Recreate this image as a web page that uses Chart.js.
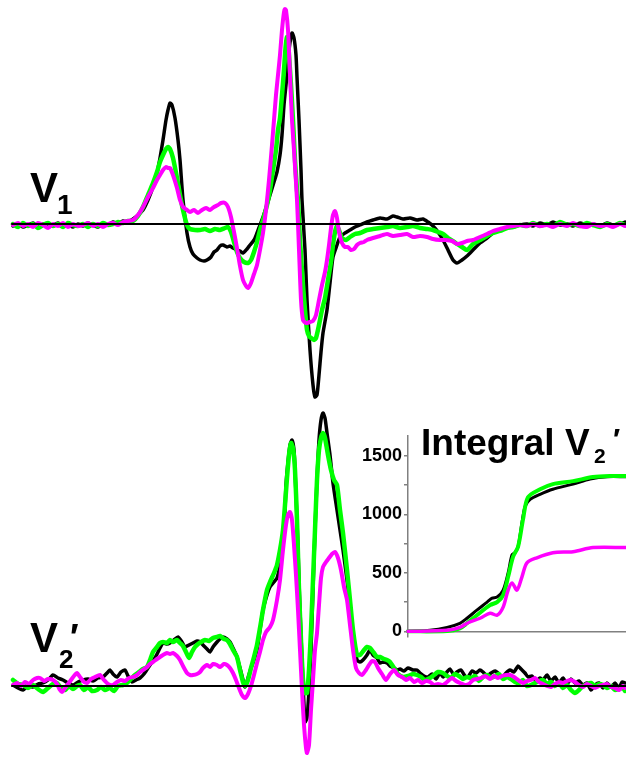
<!DOCTYPE html>
<html>
<head>
<meta charset="utf-8">
<script src="https://cdn.jsdelivr.net/npm/chart.js@4"></script>
<style>
  html, body { margin: 0; padding: 0; background: #fff; overflow: hidden; }
  body { width: 626px; height: 757px; position: relative; }
  canvas { position: absolute; }
  .lbl { position: absolute; font-family: "Liberation Sans", Arial, sans-serif; font-weight: bold; color: #000; white-space: nowrap; }
</style>
</head>
<body>
<canvas id="c1" width="626" height="420" style="left:0;top:0;"></canvas>
<canvas id="c2" width="626" height="362" style="left:0;top:395px;"></canvas>
<canvas id="c3" width="286" height="230" style="left:340px;top:420px;"></canvas>

<div class="lbl" style="left:30px;top:167px;font-size:42px;line-height:42px;">V</div>
<div class="lbl" style="left:57px;top:191px;font-size:28px;line-height:28px;">1</div>

<div class="lbl" style="left:30px;top:617px;font-size:42px;line-height:42px;">V</div>
<div class="lbl" style="left:59px;top:646px;font-size:26px;line-height:26px;">2</div>
<div class="lbl" style="left:70px;top:620px;font-size:36px;line-height:36px;">′</div>

<div class="lbl" style="left:421px;top:424px;font-size:37px;line-height:37px;">Integral V</div>
<div class="lbl" style="left:594px;top:445px;font-size:21px;line-height:21px;">2</div>
<div class="lbl" style="left:613px;top:424px;font-size:30px;line-height:30px;">′</div>

<script>
// ---- Time axis (arbitrary units) ----
const baseT = [12, 626];
const baseV = [0, 0];

// ---- V1 traces ----
const v1BlackT = [13,18,23,28,33,38,43,48,53,58,63,68,73,78,83,88,93,98,103,108,113,118,123,128,133,138,143,148,153,157,160,163,166,168,170,172,175,178,180,183,187,190,193,197,200,204,207,211,214,217,220,223,227,230,233,237,240,243,247,250,254,257,260,263,267,270,274,277,280,282,284,287,289,292,294,296,297,299,301,302,305,307,310,313,315,317,319,321,323,327,330,333,337,340,345,350,355,360,367,373,380,387,393,397,403,410,417,423,428,433,438,443,448,453,457,462,467,473,480,487,493,500,507,513,520,527,533,540,547,553,560,567,573,580,587,593,600,607,613,620,625];
const v1BlackV = [-2,0,-3,-1,1,-2,0,-3,-1,1,-2,-1,-3,0,-2,1,-1,-3,0,-1,2,0,3,2,5,9,14,24,37,51,66,84,104,114,121,119,106,84,64,24,-9,-23,-30,-34,-36,-37,-36,-33,-28,-26,-22,-21,-23,-22,-24,-26,-27,-29,-25,-21,-16,-9,-1,7,19,29,42,52,69,89,119,149,174,191,186,169,147,104,54,24,-26,-76,-126,-161,-173,-171,-151,-128,-109,-86,-59,-33,-21,-13,-9,-6,-3,-1,2,4,6,5,8,7,5,6,4,5,2,-2,-8,-16,-26,-36,-39,-36,-32,-26,-19,-14,-9,-6,-4,-3,-1,0,-2,1,-1,2,-1,0,-2,1,-1,0,-2,1,-1,0,2];

const v1GreenT = [13,18,23,28,33,38,43,48,53,58,63,68,73,78,83,88,93,98,103,108,113,118,123,128,133,138,143,148,153,157,160,163,166,168,170,173,177,180,183,187,190,195,200,205,210,215,220,225,228,231,234,237,240,244,248,251,254,257,260,263,267,270,273,276,278,280,282,284,285,286,287,288,289,291,293,295,297,298,300,303,305,307,309,311,314,316,319,322,325,328,331,333,335,337,339,342,346,350,355,360,367,373,380,387,393,400,407,413,420,427,433,438,443,448,453,457,462,467,473,480,487,493,500,507,513,520,527,533,540,547,553,560,567,573,580,587,593,600,607,613,620,625];
const v1GreenV = [0,-3,1,-2,0,-4,-1,1,-2,0,-3,1,-1,-2,0,-3,0,-2,1,-1,0,2,1,3,3,8,17,29,41,52,62,69,75,77,75,66,46,29,14,-1,-5,-6,-6,-5,-7,-5,-6,-4,-3,-8,-18,-28,-34,-38,-39,-36,-28,-18,-6,4,19,34,54,74,94,106,129,154,169,181,187,184,169,139,104,64,34,24,-16,-61,-86,-106,-112,-114,-116,-114,-101,-86,-74,-56,-38,-21,-8,-2,-6,-14,-16,-13,-10,-9,-6,-5,-4,-3,-2,-4,-3,-2,-4,-5,-6,-8,-10,-14,-17,-20,-23,-26,-20,-16,-12,-9,-7,-4,-3,-1,-2,1,-2,0,-2,2,-1,0,-2,1,-1,-3,0,-2,1,-1];

const v1MagT = [13,18,23,28,33,38,43,48,53,58,63,68,73,78,83,88,93,98,103,108,113,118,123,128,133,138,143,148,153,157,160,163,166,168,170,173,177,180,183,187,190,194,198,202,206,210,214,218,221,225,228,231,234,237,240,243,246,248,251,254,257,260,263,266,269,272,274,276,278,280,282,284,285,286,288,290,292,294,297,299,301,303,306,310,313,316,319,322,325,327,329,331,333,335,337,339,342,345,348,351,354,357,360,364,367,373,380,387,393,400,407,413,420,427,433,440,446,452,457,462,467,473,480,487,493,500,507,513,520,527,533,540,547,553,560,567,573,580,587,593,600,607,613,620,625];
const v1MagV = [-1,1,-2,0,-3,1,-1,-4,0,-2,1,-3,0,-2,-1,1,-2,0,-3,0,1,-1,2,3,4,9,17,27,36,44,49,54,57,56,56,49,36,24,17,14,12,14,11,14,16,14,17,19,21,21,17,7,-8,-24,-42,-56,-62,-64,-59,-50,-41,-26,-9,14,44,79,104,129,149,169,194,212,215,214,194,149,104,74,24,-26,-76,-96,-99,-98,-97,-91,-76,-61,-48,-36,-21,-4,9,13,6,-8,-19,-23,-23,-26,-25,-21,-19,-18,-16,-14,-12,-10,-12,-11,-10,-13,-12,-13,-15,-16,-16,-17,-20,-19,-17,-16,-13,-10,-7,-5,-3,-2,-1,-2,0,-2,-1,-3,0,-2,1,-2,-3,0,-2,-1,-3,0,-2];

// ---- V2' traces ----
const v2BlackT = [13,18,23,28,33,38,43,48,53,58,63,68,73,78,83,88,93,98,103,108,110,113,117,121,125,128,132,136,140,144,148,152,156,160,163,167,170,174,178,182,185,189,193,197,200,204,207,210,213,217,220,223,227,230,233,237,240,243,245,248,251,254,257,260,263,267,270,274,277,280,283,285,286,288,290,292,294,295,297,299,300,302,304,305,307,309,311,313,315,317,319,321,323,325,327,330,333,337,340,343,347,350,353,357,360,363,367,370,373,377,380,383,387,390,394,397,400,404,408,413,417,420,424,428,432,436,440,443,447,450,454,457,461,465,468,472,476,480,483,487,491,495,499,502,506,510,514,518,521,525,528,532,536,540,543,547,551,555,559,563,567,571,575,579,583,587,591,595,599,603,607,611,615,619,622,625];
const v2BlackV = [1,-2,-4,0,-1,2,3,6,11,8,6,3,1,4,6,7,5,8,9,14,16,12,9,14,16,10,4,6,8,12,18,24,30,38,43,42,43,46,49,44,39,41,43,45,44,40,37,34,39,44,47,49,47,44,38,29,18,6,-1,8,18,26,36,56,76,91,99,104,108,121,143,176,201,224,241,246,236,216,166,106,76,26,-19,-36,-32,-4,36,96,156,206,246,266,273,268,253,231,203,176,156,136,106,79,51,26,24,26,31,36,31,28,23,24,23,20,18,16,17,15,18,16,16,13,10,9,12,7,13,9,14,17,11,14,16,10,9,15,13,16,14,10,13,15,12,8,13,16,14,20,17,13,9,10,5,8,6,11,5,9,3,8,2,7,3,5,1,3,-4,1,3,-2,3,-1,3,-2,4,3];

const v2GreenT = [13,18,23,28,33,38,43,48,53,57,61,65,69,73,77,80,84,88,92,97,101,105,110,114,118,123,127,131,135,139,143,147,150,153,157,160,163,167,170,173,177,180,183,186,189,192,195,198,201,205,209,213,217,220,224,227,230,233,237,240,243,245,248,251,254,257,260,263,267,270,274,277,280,283,285,287,289,291,293,295,297,299,301,303,305,307,309,311,313,315,317,319,321,323,325,328,331,334,337,340,343,347,350,353,357,360,364,367,370,374,377,380,384,387,390,394,398,403,408,413,417,421,425,430,434,438,443,447,451,455,459,463,467,471,475,479,483,487,491,495,499,503,507,511,515,519,523,527,531,535,539,543,547,551,555,559,563,567,571,575,579,583,587,591,595,599,603,607,611,615,619,623,625];
const v2GreenV = [6,2,1,-2,1,-3,-6,-2,2,3,-2,-4,0,-3,0,1,-4,-1,-5,-4,-1,-4,-2,-5,0,1,3,7,11,14,17,19,26,34,39,43,44,43,46,44,46,43,40,34,28,34,39,42,44,46,45,48,49,50,47,46,42,36,29,16,4,0,6,18,29,41,58,76,96,104,113,121,136,156,181,208,231,243,238,216,166,96,46,6,-7,-7,16,56,106,156,206,236,248,253,248,231,216,206,201,176,153,116,86,56,31,31,36,39,38,33,29,29,27,26,24,18,12,9,10,12,11,9,6,8,11,14,13,10,8,12,10,7,9,8,10,5,9,11,8,10,12,7,9,7,4,3,6,0,1,3,5,6,2,4,0,3,-2,1,-4,-7,-4,0,2,3,0,2,1,-2,0,-4,-3,-2,-5];

const v2MagT = [13,17,21,25,29,33,37,40,44,48,53,57,60,62,65,68,71,74,77,80,84,87,91,95,100,104,108,113,117,121,125,129,133,137,140,143,147,150,153,157,160,163,167,170,173,177,180,183,187,190,193,197,200,203,207,210,213,217,220,224,227,230,233,236,239,242,245,248,251,254,257,260,263,266,270,273,277,280,283,286,288,290,292,294,296,298,300,302,304,306,307,309,311,313,315,317,319,321,323,326,329,332,335,338,341,344,347,350,353,356,359,362,366,369,372,375,378,382,386,390,394,398,402,406,410,414,418,422,426,430,434,438,443,447,452,456,460,465,469,473,477,481,485,490,494,498,502,506,510,514,518,523,527,531,535,539,543,547,551,555,559,563,567,571,575,579,583,587,591,595,599,603,607,611,615,619,623,625];
const v2MagV = [1,3,0,4,2,6,8,8,5,7,6,2,-4,-6,-2,2,6,10,13,9,4,3,7,9,11,6,2,1,4,6,5,8,9,11,14,16,19,22,24,27,29,31,33,32,33,30,26,20,13,11,11,12,14,18,21,19,22,21,19,22,21,18,13,6,-2,-9,-12,-8,0,11,23,34,46,54,59,66,86,106,136,161,171,174,166,141,111,76,36,-4,-39,-62,-67,-59,-24,6,36,53,81,108,119,124,128,132,134,128,116,99,86,61,36,18,13,11,16,21,25,24,18,12,6,12,16,11,9,6,8,4,6,3,5,4,1,2,1,4,8,5,3,1,2,6,7,8,10,7,10,8,10,11,11,9,6,3,5,6,8,4,2,0,-1,2,4,3,5,6,4,1,-1,2,0,-2,0,1,2,-1,-2,-4,0,-2];

// ---- Integral of V2' (inset) ----
const intBlackT = [12,74,122,158,178,206,235,249,263,280,294,305,313,322,333,342,356,384,420,477,525,573,626];
const intBlackV = [0,9,34,69,112,181,250,284,293,353,500,655,672,724,931,1069,1129,1172,1215,1259,1302,1322,1322];
const intGreenT = [12,122,158,178,206,243,263,280,294,308,322,336,350,384,420,477,533,589,626];
const intGreenV = [0,3,26,69,138,224,250,310,466,638,724,957,1146,1215,1259,1284,1319,1328,1328];
const intMagT = [12,122,158,184,215,243,263,280,294,305,319,333,347,375,420,477,533,626];
const intMagV = [0,9,34,78,112,155,138,207,353,414,353,466,586,629,672,681,716,716];
const intTicks = [0,250,500,750,1000,1250,1500];

const MAG = '#ff00ff', GRN = '#00ff00', BLK = '#000000';
const pts = (t, v) => t.map((x, i) => ({x, y: v[i]}));
const ds = (t, v, color, w, tension) => ({
  data: pts(t, v), borderColor: color, borderWidth: w, pointRadius: 0,
  tension: tension, borderJoinStyle: 'round', borderCapStyle: 'round', clip: false, fill: false
});

function traceChart(id, ymin, ymax, sets) {
  return new Chart(document.getElementById(id), {
    type: 'line',
    data: { datasets: sets },
    options: {
      responsive: false, animation: false, events: [],
      layout: { padding: 0 },
      plugins: { legend: { display: false }, tooltip: { enabled: false } },
      scales: {
        x: { type: 'linear', min: 0, max: 626, display: false },
        y: { type: 'linear', min: ymin, max: ymax, display: false }
      }
    }
  });
}

traceChart('c1', -196, 224, [
  ds(baseT, baseV, BLK, 2, 0),
  ds(v1MagT, v1MagV, MAG, 4, 0.2),
  ds(v1GreenT, v1GreenV, GRN, 4.5, 0.2),
  ds(v1BlackT, v1BlackV, BLK, 3.5, 0.2)
]);

traceChart('c2', -71, 291, [
  ds(baseT, baseV, BLK, 2, 0),
  ds(v2MagT, v2MagV, MAG, 4, 0.2),
  ds(v2GreenT, v2GreenV, GRN, 4.5, 0.2),
  ds(v2BlackT, v2BlackV, BLK, 3.5, 0.2)
]);

new Chart(document.getElementById('c3'), {
  type: 'line',
  data: { datasets: [
    ds(intMagT, intMagV, MAG, 3.5, 0.3),
    ds(intGreenT, intGreenV, GRN, 4, 0.3),
    ds(intBlackT, intBlackV, BLK, 3, 0.3)
  ]},
  options: {
    responsive: false, animation: false, events: [],
    layout: { padding: { top: 16, bottom: 12, left: 0, right: 0 } },
    plugins: { legend: { display: false }, tooltip: { enabled: false } },
    scales: {
      x: { type: 'linear', min: 12, max: 626, position: { y: 0 },
           ticks: { display: false }, grid: { display: false },
           border: { color: '#808080', width: 1.5 } },
      y: { type: 'linear', min: -50, max: 1670,
           afterBuildTicks: s => { s.ticks = intTicks.map(v => ({ value: v })); },
           afterFit: s => { s.width = 68; },
           ticks: { callback: v => (v % 500 === 0 ? String(v) : ''), padding: 2, color: '#000',
                    font: { family: '"Liberation Sans", Arial, sans-serif', size: 18, weight: 'bold' } },
           grid: { drawOnChartArea: false, tickLength: 4, color: '#808080', lineWidth: 1.5 },
           border: { color: '#808080', width: 1.5 } }
    }
  }
});
</script>
</body>
</html>
